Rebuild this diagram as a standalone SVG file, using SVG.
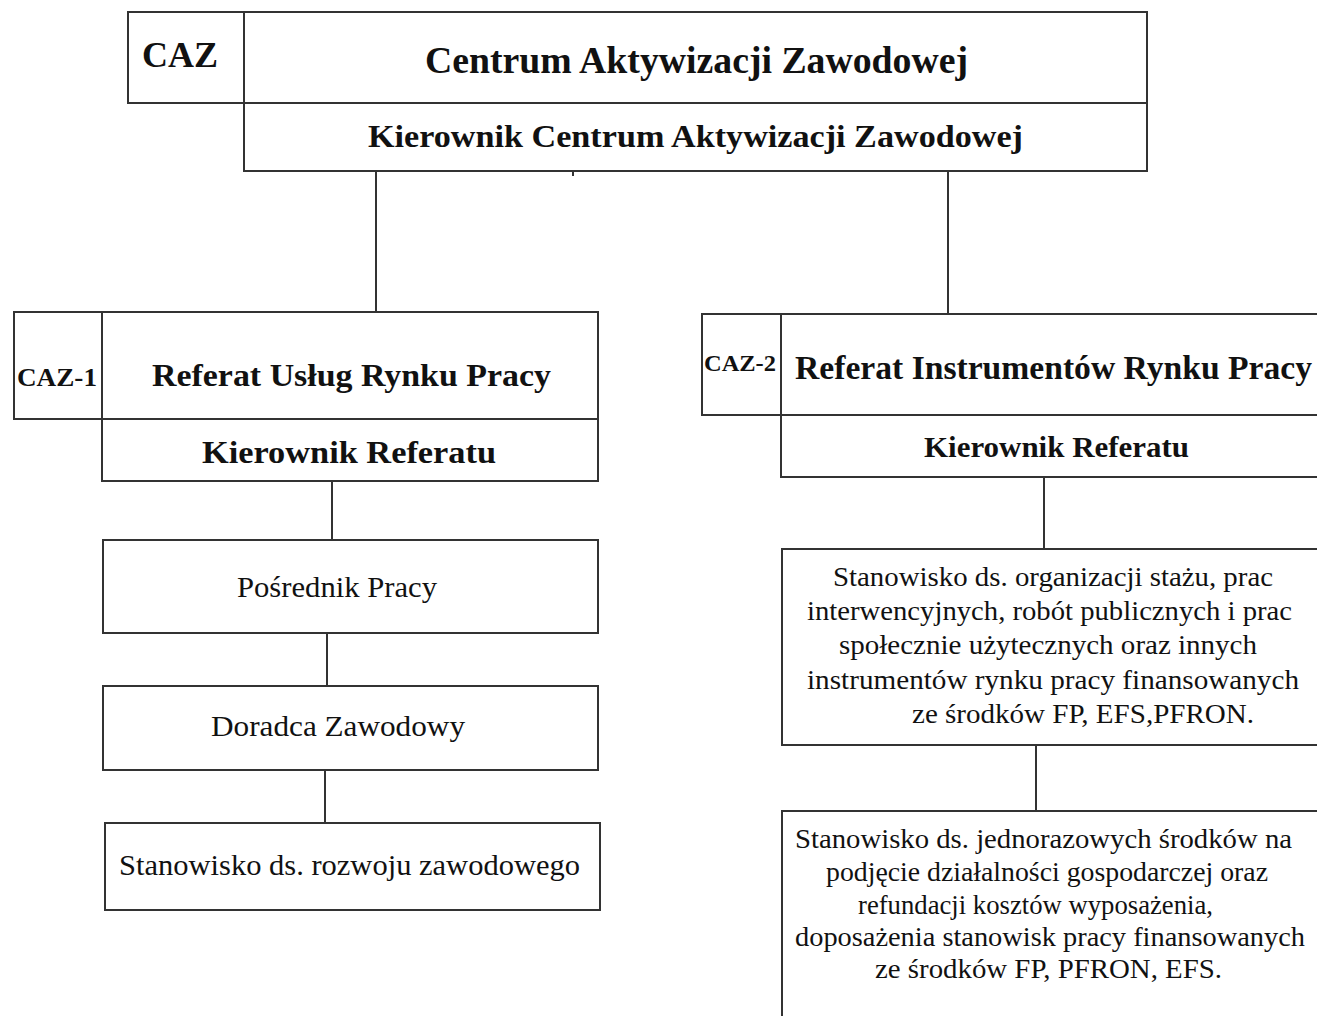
<svg xmlns="http://www.w3.org/2000/svg" width="1317" height="1016" viewBox="0 0 1317 1016">
<style>
.box{fill:#fff;stroke:#333;stroke-width:2}
.con{stroke:#333;stroke-width:2;fill:none}
text{font-family:'Liberation Serif',Tinos,'Times New Roman',Times,serif;fill:#111}
.b{font-weight:bold}
</style>
<rect width="1317" height="1016" fill="#fff"/>
<g id="connectors">
<line class="con" x1="376" y1="171" x2="376" y2="312"/>
<line class="con" x1="948" y1="171" x2="948" y2="314"/>
<line class="con" x1="573" y1="171" x2="573" y2="176"/>
<line class="con" x1="332" y1="481" x2="332" y2="540"/>
<line class="con" x1="327" y1="633" x2="327" y2="686"/>
<line class="con" x1="325" y1="770" x2="325" y2="823"/>
<line class="con" x1="1044" y1="477" x2="1044" y2="549"/>
<line class="con" x1="1036" y1="745" x2="1036" y2="811"/>
</g>
<g id="caz">
<rect class="box" x="128" y="12" width="116" height="91"/>
<text class="b" x="142" y="67" font-size="35" textLength="76" lengthAdjust="spacingAndGlyphs">CAZ</text>
</g>
<g id="centrum">
<rect class="box" x="244" y="12" width="903" height="91"/>
<text class="b" x="425" y="73" font-size="37" textLength="543" lengthAdjust="spacingAndGlyphs">Centrum Aktywizacji Zawodowej</text>
</g>
<g id="kierownik-centrum">
<rect class="box" x="244" y="103" width="903" height="68"/>
<text class="b" x="368" y="147" font-size="32" textLength="655" lengthAdjust="spacingAndGlyphs">Kierownik Centrum Aktywizacji Zawodowej</text>
</g>
<g id="caz1">
<rect class="box" x="14" y="312" width="88" height="107"/>
<text class="b" x="17" y="386" font-size="26" textLength="80" lengthAdjust="spacingAndGlyphs">CAZ-1</text>
</g>
<g id="referat-uslug">
<rect class="box" x="102" y="312" width="496" height="107"/>
<text class="b" x="152" y="386" font-size="32" textLength="399" lengthAdjust="spacingAndGlyphs">Referat Usług Rynku Pracy</text>
</g>
<g id="kierownik-referatu-1">
<rect class="box" x="102" y="419" width="496" height="62"/>
<text class="b" x="202" y="463" font-size="32" textLength="294" lengthAdjust="spacingAndGlyphs">Kierownik Referatu</text>
</g>
<g id="posrednik">
<rect class="box" x="103" y="540" width="495" height="93"/>
<text x="237" y="597" font-size="30" textLength="200" lengthAdjust="spacingAndGlyphs">Pośrednik Pracy</text>
</g>
<g id="doradca">
<rect class="box" x="103" y="686" width="495" height="84"/>
<text x="211" y="736" font-size="30" textLength="254" lengthAdjust="spacingAndGlyphs">Doradca Zawodowy</text>
</g>
<g id="rozwoj">
<rect class="box" x="105" y="823" width="495" height="87"/>
<text x="119" y="875" font-size="30" textLength="461" lengthAdjust="spacingAndGlyphs">Stanowisko ds. rozwoju zawodowego</text>
</g>
<g id="caz2">
<rect class="box" x="702" y="314" width="79" height="101"/>
<text class="b" x="704" y="371" font-size="24" textLength="72" lengthAdjust="spacingAndGlyphs">CAZ-2</text>
</g>
<g id="referat-instrumentow">
<rect class="box" x="781" y="314" width="540" height="101"/>
<text class="b" x="795" y="379" font-size="33" textLength="517" lengthAdjust="spacingAndGlyphs">Referat Instrumentów Rynku Pracy</text>
</g>
<g id="kierownik-referatu-2">
<rect class="box" x="781" y="415" width="540" height="62"/>
<text class="b" x="924" y="457" font-size="30" textLength="265" lengthAdjust="spacingAndGlyphs">Kierownik Referatu</text>
</g>
<g id="staz">
<rect class="box" x="782" y="549" width="539" height="196"/>
<text font-size="28">
<tspan x="833" y="586" textLength="440" lengthAdjust="spacingAndGlyphs">Stanowisko ds. organizacji stażu, prac</tspan>
<tspan x="807" y="620" textLength="485" lengthAdjust="spacingAndGlyphs">interwencyjnych, robót publicznych i prac</tspan>
<tspan x="839" y="654" textLength="418" lengthAdjust="spacingAndGlyphs">społecznie użytecznych oraz innych</tspan>
<tspan x="807" y="689" textLength="492" lengthAdjust="spacingAndGlyphs">instrumentów rynku pracy finansowanych</tspan>
<tspan x="912" y="723" textLength="342" lengthAdjust="spacingAndGlyphs">ze środków FP, EFS,PFRON.</tspan>
</text>
</g>
<g id="jednorazowe">
<rect class="box" x="782" y="811" width="539" height="215"/>
<text font-size="28">
<tspan x="795" y="848" textLength="497" lengthAdjust="spacingAndGlyphs">Stanowisko ds. jednorazowych środków na</tspan>
<tspan x="826" y="881" textLength="442" lengthAdjust="spacingAndGlyphs">podjęcie działalności gospodarczej oraz</tspan>
<tspan x="858" y="914" textLength="355" lengthAdjust="spacingAndGlyphs">refundacji kosztów wyposażenia,</tspan>
<tspan x="795" y="946" textLength="510" lengthAdjust="spacingAndGlyphs">doposażenia stanowisk pracy finansowanych</tspan>
<tspan x="875" y="978" textLength="347" lengthAdjust="spacingAndGlyphs">ze środków FP, PFRON, EFS.</tspan>
</text>
</g>
</svg>
